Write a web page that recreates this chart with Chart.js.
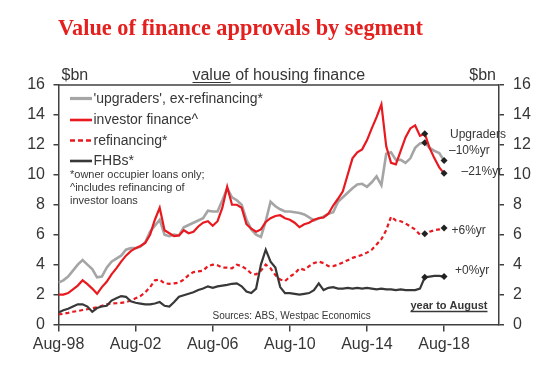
<!DOCTYPE html>
<html>
<head>
<meta charset="utf-8">
<title>Value of finance approvals by segment</title>
<script src="https://cdn.jsdelivr.net/npm/chart.js@4.4.1/dist/chart.umd.min.js"></script>
<style>
    html, body { margin: 0; padding: 0; background: #ffffff; }
    #wrap { width: 560px; height: 374px; }
</style>
</head>
<body>
<div id="wrap"><canvas id="chart" width="560" height="374"></canvas></div>
<script>

/* ---------- Data (months since Aug-98, quarterly) ---------- */

const months = [
    0, 3, 6, 9, 12, 15, 18, 21, 24,
    27, 30, 33, 36, 39, 42, 45, 48, 51,
    54, 57, 60, 63, 66, 69, 72, 75, 78,
    81, 84, 87, 90, 93, 96, 99, 102, 105,
    108, 111, 114, 117, 120, 123, 126, 129, 132,
    135, 138, 141, 144, 147, 150, 153, 156, 159,
    162, 165, 168, 171, 174, 177, 180, 183, 186,
    189, 192, 195, 198, 201, 204, 207, 210, 213,
    216, 219, 222, 225, 228, 231, 234, 237, 240
];

// $bn, year to date
const upgraders = [
    2.8, 2.95, 3.2, 3.6, 4.0, 4.3, 4.0, 3.7, 3.15,
    3.2, 3.8, 4.2, 4.4, 4.6, 5.0, 5.1, 5.1, 5.2,
    5.5, 6.2, 6.6, 7.0, 6.0, 5.9, 6.0, 5.95, 6.5,
    6.65, 6.8, 6.95, 7.1, 7.6, 7.55, 7.55, 8.3, 9.1,
    8.5, 8.3, 8.0, 7.0, 6.35, 6.0, 5.85, 6.9, 8.2,
    7.9, 7.7, 7.55, 7.55, 7.5, 7.45, 7.35, 7.15, 6.95,
    7.1, 7.2, 7.4, 7.5, 8.2, 8.5, 8.8, 9.1, 9.35,
    9.4, 9.2, 9.5, 9.9, 9.3, 11.4, 11.5, 11.0, 11.0,
    10.8, 11.1, 11.8, 12.1, 12.15, 11.8, 11.6, 11.45, 10.95
];

const investor = [
    2.0, 2.0, 2.1, 2.35, 2.6, 2.95, 2.7, 2.4, 2.05,
    2.5, 2.85, 3.35, 3.75, 4.2, 4.6, 4.9, 5.1, 5.25,
    5.45, 6.0, 7.0, 7.8, 6.3, 6.1, 5.9, 5.95, 6.3,
    6.1, 6.2, 6.55, 6.8, 6.9, 6.6, 6.9, 7.8, 9.2,
    8.0, 8.0, 7.8, 6.7, 6.4, 6.2, 6.35, 6.85, 7.1,
    7.25, 7.3, 7.1, 7.0, 6.8, 6.5, 6.7, 6.8, 7.0,
    7.1, 7.15, 7.4, 7.95, 8.4, 8.9, 10.0, 11.1, 11.5,
    11.7, 12.3, 13.1, 13.85, 14.7, 11.9, 10.8, 10.7, 11.6,
    12.5, 13.1, 13.3, 12.6, 12.75, 11.8, 11.1, 10.5, 10.1
];

const refinancing = [
    0.67, 0.72, 0.78, 0.85, 0.9, 0.97, 1.02, 1.08, 1.15,
    1.25, 1.35, 1.4, 1.42, 1.45, 1.5, 1.6, 1.75, 1.9,
    2.15, 2.5, 2.95, 3.0, 2.75, 2.72, 2.75, 2.8, 3.0,
    3.3, 3.5, 3.55, 3.6, 3.9, 4.0, 3.95, 3.8, 3.8,
    3.75, 4.0, 3.9, 3.7, 3.4, 3.35, 3.6, 4.0, 3.75,
    3.3, 3.0, 2.9, 3.2, 3.4, 3.75, 3.65, 3.9, 4.1,
    4.2, 4.1, 3.9, 3.9, 4.0, 4.15, 4.3, 4.45, 4.55,
    4.65, 4.8, 5.0, 5.35, 5.7, 6.3, 7.2, 6.95, 6.9,
    6.75, 6.55, 6.35, 6.0, 6.07, 6.2, 6.3, 6.35, 6.45
];

const fhbs = [
    0.8, 0.95, 1.05, 1.2, 1.35, 1.35, 1.2, 0.85, 1.1,
    1.2, 1.25, 1.6, 1.75, 1.9, 1.85, 1.55, 1.45, 1.4,
    1.35, 1.35, 1.4, 1.5, 1.25, 1.2, 1.5, 1.85, 1.95,
    2.05, 2.15, 2.3, 2.4, 2.55, 2.45, 2.55, 2.6, 2.65,
    2.72, 2.75, 2.55, 2.2, 2.1, 2.4, 4.0, 5.0, 4.2,
    3.8, 2.5, 2.1, 2.1, 2.05, 2.0, 2.05, 2.1, 2.3,
    2.75, 2.3, 2.45, 2.5, 2.4, 2.4, 2.45, 2.4, 2.45,
    2.4, 2.45, 2.4, 2.35, 2.4, 2.35, 2.35, 2.3, 2.35,
    2.3, 2.3, 2.3, 2.4, 3.15, 3.2, 3.25, 3.25, 3.2
];

// Aug-17 and Aug-18 comparison points
const markerMonths = [228, 240];

const tickMonths = [0, 48, 96, 144, 192, 240];
const tickLabels = ["Aug-98", "Aug-02", "Aug-06", "Aug-10", "Aug-14", "Aug-18"];

const yTicks = [0, 2, 4, 6, 8, 10, 12, 14, 16];

const annotations = [
    { text: "Upgraders", x: 450, y: 134.5 },
    { text: "\u201310%yr", x: 449, y: 151 },
    { text: "\u201321%yr", x: 461.5, y: 172 },
    { text: "+6%yr", x: 451.5, y: 231 },
    { text: "+0%yr", x: 455, y: 270.5 }
];

const footnotes = [
    "*owner occupier loans only;",
    "^includes refinancing of",
    "investor loans"
];

/* ---------- Styles ---------- */

const SANS = '"Liberation Sans", Arial, sans-serif';
const TEXT = "#363636";
const AXIS = "#404040";
const RED = "#e8191f";
const GREY = "#a5a5a5";
const DARK = "#383838";

function points(values) {

    return values.map((v, i) => ({ x: months[i], y: v }));

}

function markerRadius(ctx) {

    return markerMonths.includes(months[ctx.dataIndex]) ? 3.5 : 0;

}

function series(label, values, color, width, dash, order) {

    return {
        label,
        data: points(values),
        borderColor: color,
        borderWidth: width,
        borderDash: dash,
        order,
        pointRadius: markerRadius,
        pointStyle: "rectRot",
        pointBackgroundColor: "#222222",
        pointBorderColor: "#222222",
        pointBorderWidth: 0,
        tension: 0
    };

}

/* ---------- Overlay text, legend, frame ---------- */

const overlay = {

    id: "overlay",

    afterDraw(chart) {

        const { ctx, chartArea: a } = chart;

        ctx.save();

        // top frame
        ctx.strokeStyle = AXIS;
        ctx.lineWidth = 1.5;
        ctx.beginPath();
        ctx.moveTo(a.left, a.top);
        ctx.lineTo(a.right, a.top);
        ctx.stroke();

        // title
        ctx.fillStyle = "#e4201f";
        ctx.font = 'bold 22.3px "Liberation Serif", "Times New Roman", serif';
        ctx.textAlign = "left";
        ctx.textBaseline = "alphabetic";
        ctx.fillText("Value of finance approvals by segment", 58, 34.5);

        // units and heading
        ctx.fillStyle = TEXT;
        ctx.font = "16px " + SANS;
        ctx.fillText("$bn", 61.5, 80);
        ctx.textAlign = "right";
        ctx.fillText("$bn", 496, 80);

        const heading = "value of housing finance";
        const hw = ctx.measureText(heading).width;
        const hx = (a.left + a.right) / 2 - hw / 2;
        ctx.textAlign = "left";
        ctx.fillText(heading, hx, 80);
        const uw = ctx.measureText("value").width;
        ctx.lineWidth = 1.2;
        ctx.strokeStyle = TEXT;
        ctx.beginPath();
        ctx.moveTo(hx, 82.5);
        ctx.lineTo(hx + uw, 82.5);
        ctx.stroke();

        // legend
        const rows = [98.5, 120, 140.5, 161];
        ctx.font = "14px " + SANS;
        ctx.textBaseline = "middle";
        chart.data.datasets.forEach((ds, i) => {

            ctx.strokeStyle = ds.borderColor;
            ctx.lineWidth = i === 0 ? 3.2 : 2.6;
            ctx.setLineDash(ds.borderDash.length ? [5, 3] : []);
            ctx.beginPath();
            ctx.moveTo(70, rows[i]);
            ctx.lineTo(92, rows[i]);
            ctx.stroke();
            ctx.setLineDash([]);
            ctx.fillStyle = TEXT;
            ctx.fillText(ds.label, 93.5, rows[i] + 0.5);

        });

        ctx.font = "11px " + SANS;
        footnotes.forEach((t, i) => ctx.fillText(t, 70, 174.5 + i * 13.2));

        // end-point annotations
        ctx.font = "12px " + SANS;
        annotations.forEach(n => ctx.fillText(n.text, n.x, n.y));

        // period note
        ctx.font = "bold 11px " + SANS;
        ctx.textBaseline = "alphabetic";
        const note = "year to August";
        const nw = ctx.measureText(note).width;
        ctx.fillText(note, 487.5 - nw, 309);
        ctx.lineWidth = 1.6;
        ctx.beginPath();
        ctx.moveTo(487.5 - nw, 311.5);
        ctx.lineTo(487.5, 311.5);
        ctx.stroke();

        // source
        ctx.font = "10px " + SANS;
        ctx.fillText("Sources: ABS, Westpac Economics", 212.5, 318.5);

        ctx.restore();

    }

};

/* ---------- Axes ---------- */

function yAxis(position, width, padding) {

    return {
        type: "linear",
        position,
        min: 0,
        max: 16,
        afterBuildTicks: s => { s.ticks = yTicks.map(v => ({ value: v })); },
        afterFit: s => { s.width = width; },
        ticks: {
            color: TEXT,
            padding,
            font: { family: SANS, size: 16 }
        },
        grid: {
            drawOnChartArea: false,
            tickLength: 5,
            color: AXIS,
            lineWidth: 1.5
        },
        border: { color: AXIS, width: 1.5 }
    };

}

new Chart(document.getElementById("chart"), {

    type: "line",

    data: {
        datasets: [
            series("'upgraders', ex-refinancing*", upgraders, GREY, 2.6, [], 1),
            series("investor finance^", investor, RED, 2.2, [], 0),
            series("refinancing*", refinancing, RED, 2.2, [4, 3], 3),
            series("FHBs*", fhbs, DARK, 2.2, [], 2)
        ]
    },

    options: {
        responsive: false,
        animation: false,
        devicePixelRatio: 1,
        layout: { padding: { top: 85, left: 0, right: 0, bottom: 0 } },
        plugins: {
            legend: { display: false },
            tooltip: { enabled: false }
        },
        scales: {
            x: {
                type: "linear",
                min: 0,
                max: 274.2,
                afterBuildTicks: s => { s.ticks = tickMonths.map(v => ({ value: v })); },
                afterFit: s => { s.height = 49.5; },
                ticks: {
                    color: TEXT,
                    padding: 3,
                    maxRotation: 0,
                    autoSkip: false,
                    font: { family: SANS, size: 16 },
                    callback: v => tickLabels[tickMonths.indexOf(v)] ?? ""
                },
                grid: {
                    drawOnChartArea: false,
                    tickLength: 7,
                    color: AXIS,
                    lineWidth: 1.5
                },
                border: { color: AXIS, width: 1.5 }
            },
            y: yAxis("left", 58.5, 8.5),
            y2: yAxis("right", 61, 9)
        }
    },

    plugins: [overlay]

});

</script>
</body>
</html>
